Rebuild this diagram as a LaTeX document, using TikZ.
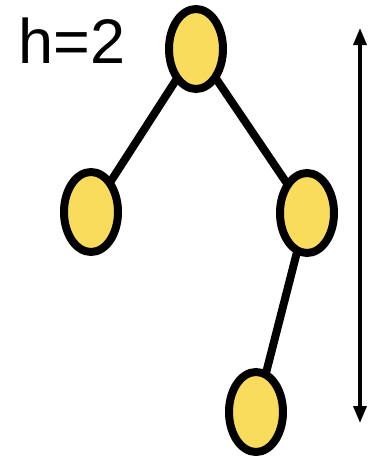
\documentclass[tikz,border=0pt]{standalone}
\usepackage{fontspec}
\setmainfont{Liberation Sans}
\usetikzlibrary{arrows.meta,shapes.geometric}
\definecolor{nodeyellow}{RGB}{249,220,92}
\begin{document}
\begin{tikzpicture}[x=1pt,y=-1pt,
  treenode/.style={ellipse,draw=black,fill=nodeyellow,line width=8pt,minimum width=54pt,minimum height=80pt,inner sep=0pt},
  edge/.style={line width=8pt,draw=black},
  measure/.style={line width=3.5pt,{Triangle[length=17pt,width=13pt]}-{Triangle[length=17pt,width=13pt]}}]
\useasboundingbox (0,0) rectangle (371,458);
\coordinate (ntop) at (196,49);
\coordinate (nleft) at (91,212);
\coordinate (nright) at (307,213);
\coordinate (nbottom) at (256,412);
\draw[edge] (ntop) -- (nleft);
\draw[edge] (ntop) -- (nright);
\draw[edge] (nright) -- (nbottom);
\node[treenode] (a) at (ntop) {};
\node[treenode] (b) at (nleft) {};
\node[treenode] (c) at (nright) {};
\node[treenode] (d) at (nbottom) {};
\node[anchor=base west,inner sep=0pt,font=\fontsize{63}{63}\selectfont] (h) at (18,63) {h=2};
\coordinate (arrtop) at (360,28);
\coordinate (arrbot) at (360,423);
\draw[measure] (arrtop) -- (arrbot);
\end{tikzpicture}
\end{document}
